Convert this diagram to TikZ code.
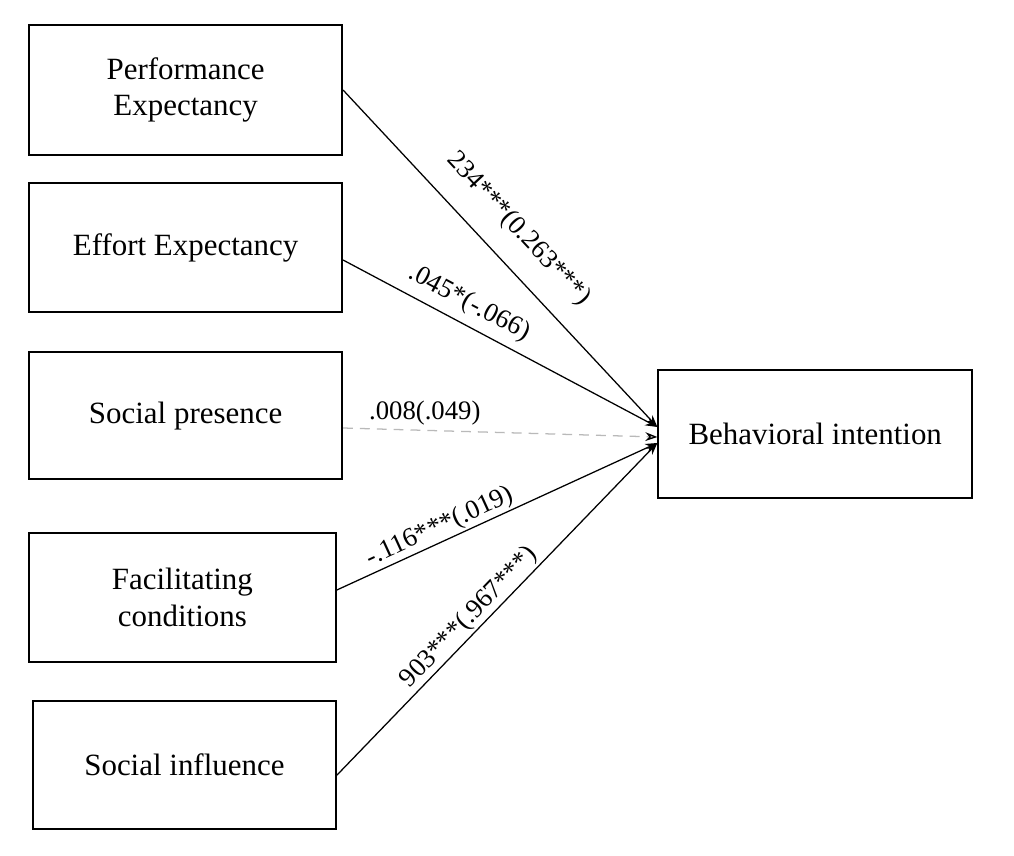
\documentclass[tikz,border=0pt]{standalone}
\usepackage{fontspec}
\setmainfont{Liberation Serif}
\usetikzlibrary{arrows.meta}
\newcommand{\ConstructFont}{\fontsize{22}{26}\selectfont}
\newcommand{\CoefFont}{\fontsize{19}{22}\selectfont}

\begin{document}
\begin{tikzpicture}[
	construct/.style={draw, line width=1.2pt, align=center, font=\ConstructFont, minimum width=7.83cm, minimum height=3.2cm},
	coef/.style={font=\CoefFont, inner sep=1pt},
	effect/.style={line width=0.9pt, -{Stealth[length=0.3cm,width=0.22cm]}}]
	\useasboundingbox (0,0) rectangle (25.35,-21.4);
	\node[construct, minimum height=3.25cm] (PE) at (4.64,-2.25) {Performance\\Expectancy};
	\node[construct, minimum height=3.23cm] (EE) at (4.64,-6.19) {Effort Expectancy};
	\node[construct, minimum height=3.18cm] (SP) at (4.64,-10.39) {Social presence};
	\node[construct, minimum width=7.68cm, minimum height=3.23cm] (FC) at (4.56,-14.94) {Facilitating\\conditions};
	\node[construct, minimum width=7.58cm] (SI) at (4.61,-19.13) {Social influence};
	\node[construct, minimum width=7.85cm] (BI) at (20.38,-10.85) {Behavioral intention};
	\coordinate (BIa) at ([yshift=0.175cm]BI.west);
	\coordinate (BIb) at ([yshift=-0.075cm]BI.west);
	\coordinate (BIc) at ([yshift=-0.225cm]BI.west);
	\path[effect]
		(PE.east) edge node[coef, sloped, pos=0.48, above=0.48cm] {234***(0.263***)} (BIa)
		([yshift=-0.31cm]EE.east) edge node[coef, sloped, pos=0.37, above=0.17cm] {.045*(-.066)} (BIa)
		([yshift=0.19cm]FC.east) edge node[coef, sloped, pos=0.34, above] {-.116***(.019)} (BIc)
		([yshift=-0.25cm]SI.east) edge node[coef, sloped, pos=0.445, above] {903***(.967***)} (BIc);
	\path[effect, gray!55, dash pattern=on 7pt off 5pt, -{Stealth[length=0.3cm,width=0.22cm,black]}]
		([yshift=-0.31cm]SP.east) edge node[coef, text=black, pos=0.26, above=0.09cm] {.008(.049)} (BIb);
	%\draw [red] (current bounding box.south west) rectangle (current bounding box.north east);
\end{tikzpicture}
\end{document}
